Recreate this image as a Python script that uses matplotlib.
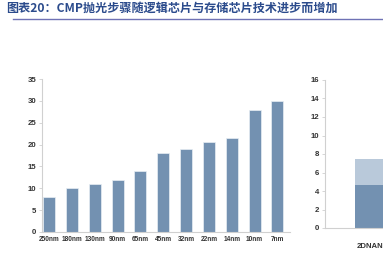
import numpy as np
import matplotlib.pyplot as plt

plt.rcParams['font.family'] = ['Liberation Sans', 'Noto Sans CJK SC', 'DejaVu Sans']

# 数据
nodes = ['250nm', '180nm', '130nm', '90nm', '65nm', '45nm', '32nm', '22nm', '14nm', '10nm', '7nm']
steps = [8, 10, 11, 12, 14, 18, 19, 20.5, 21.5, 28, 30]

mem_cat = ['2DNAND']
mem_base = [4.7]
mem_top = [2.8]

W, H = 383, 263
fig = plt.figure(figsize=(W / 100, H / 100), dpi=100)

dark = '#7391b1'
light = '#b9c9da'
grey_ax = '#d0d0d0'
txt = '#333333'

# 标题
fig.text(6 / W, 1 - 8 / H, '图表20：CMP抛光步骤随逻辑芯片与存储芯片技术进步而增加',
         family=['Noto Sans CJK SC', 'DejaVu Sans'], fontsize=8.7, fontweight='bold',
         color='#2b4b8c', va='center', ha='left')
fig.add_artist(plt.Line2D([13 / W, 1.0], [1 - 19 / H, 1 - 19 / H], color='#6f72b5', lw=1.0))

def style(ax):
    for s in ['top', 'right']:
        ax.spines[s].set_visible(False)
    for s in ['left', 'bottom']:
        ax.spines[s].set_color(grey_ax)
        ax.spines[s].set_linewidth(0.8)
    ax.tick_params(axis='both', labelsize=5.6, colors=txt, length=2, width=0.6, pad=2)
    ax.tick_params(axis='both', color=grey_ax)
    for lab in ax.get_xticklabels() + ax.get_yticklabels():
        lab.set_fontweight('bold')

# 左图：逻辑芯片
ax1 = fig.add_axes([42 / W, 1 - 232 / H, (290 - 42) / W, (232 - 79) / H])
x = np.arange(len(nodes))
ax1.bar(x, steps, width=0.53, color=dark, edgecolor='#e8eef4', linewidth=0.5)
ax1.set_xlim(-0.31, 10.55)
ax1.set_ylim(0, 35)
ax1.set_yticks(np.arange(0, 36, 5))
ax1.set_xticks(x)
ax1.set_xticklabels(nodes)
style(ax1)
ax1.tick_params(axis='x', length=0, labelsize=4.7, pad=3)

# 右图：存储芯片
ax2 = fig.add_axes([325 / W, 1 - 228 / H, 93 / W, (228 - 80) / H])
ax2.bar([0], mem_base, width=0.8, color=dark)
ax2.bar([0], mem_top, bottom=mem_base, width=0.8, color=light)
ax2.set_xlim(-1.067, 1.0)
ax2.set_ylim(0, 16)
ax2.set_yticks(np.arange(0, 17, 2))
ax2.set_xticks([0])
ax2.set_xticklabels(mem_cat)
style(ax2)
ax2.tick_params(axis='x', length=0, pad=11)

fig.savefig('out.png', dpi=100)
